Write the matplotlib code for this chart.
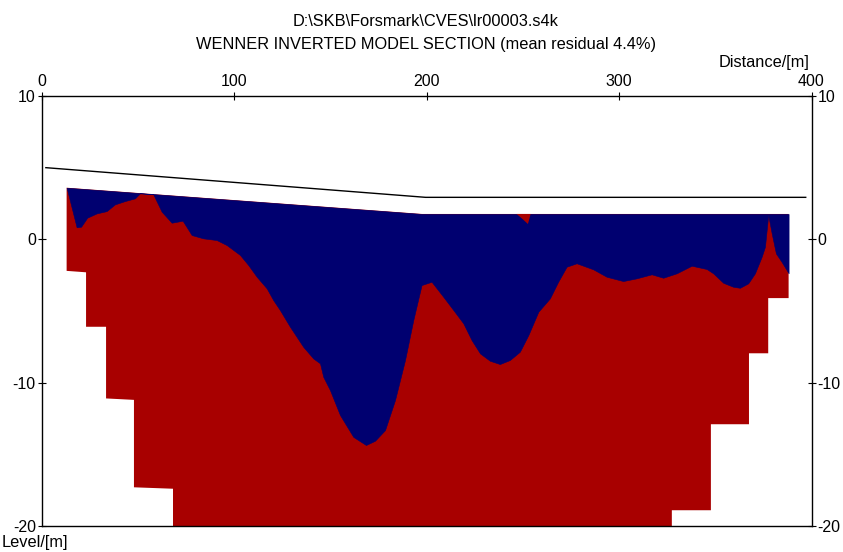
import numpy as np
import matplotlib
matplotlib.use("Agg")
import matplotlib.pyplot as plt

# ---- data (distance [m], level [m]) ----
topo_x = [2.0, 199.4, 397.0]
topo_y = [5.0, 2.93, 2.93]

surf_x = [12.8, 197.5, 388.1]
surf_y = [3.6, 1.77, 1.77]

# stepped lower boundary of the model (left edge -> right edge)
bottom_x = [12.8, 22.9, 22.9, 33.3, 33.3, 47.8, 47.8, 68.1, 68.1, 327.4, 327.4,
            347.7, 347.7, 367.5, 367.5, 377.5, 377.5, 388.1]
bottom_y = [-2.2, -2.3, -6.1, -6.1, -11.1, -11.2, -17.3, -17.4, -20.0, -20.0,
            -18.9, -18.9, -12.9, -12.9, -7.95, -7.95, -4.1, -4.1]

# interface between conductive (blue) and resistive (red) zones
iface_x = [12.8, 18.0, 20.3, 23.5, 28.4, 33.6, 37.9, 43.1, 48.3, 50.9, 57.8,
           62.2, 67.4, 73.1, 77.8, 83.8, 90.8, 96.0, 102.9, 107.2, 111.6, 116.8,
           120.2, 123.7, 128.9, 135.8, 141.0, 144.5, 146.2, 149.7, 154.9, 161.8,
           168.4, 173.1, 178.3, 183.5, 188.7, 193.0, 197.3, 202.5, 208.6, 213.8,
           219.0, 223.3, 227.7, 232.8, 238.0, 243.2, 248.4, 252.8, 258.0, 264.0,
           268.3, 272.7, 277.9, 286.5, 293.5, 302.1, 309.1, 316.9, 322.9, 329.9,
           337.7, 345.5, 348.9, 354.1, 359.3, 362.8, 367.1, 370.6, 374.1, 375.8,
           377.5, 379.3, 381.5, 384.4, 388.1]
iface_y = [3.60, 0.84, 0.88, 1.51, 1.81, 1.97, 2.44, 2.67, 2.86, 3.21, 3.15,
           1.93, 1.16, 1.30, 0.30, 0.07, -0.05, -0.40, -1.09, -1.79, -2.61, -3.42,
           -4.24, -4.94, -6.10, -7.50, -8.31, -8.65, -9.59, -10.52, -12.26, -13.78,
           -14.35, -14.05, -13.31, -11.21, -8.42, -5.63, -3.19, -2.96, -4.01, -4.93,
           -5.86, -7.03, -7.96, -8.47, -8.70, -8.42, -7.84, -6.68, -5.05, -4.12,
           -2.96, -1.91, -1.67, -2.09, -2.61, -2.91, -2.72, -2.44, -2.68, -2.37,
           -1.84, -2.07, -2.37, -3.03, -3.31, -3.38, -3.07, -2.37, -1.21, -0.52,
           1.70, 0.42, -0.98, -1.56, -2.37]

blob_x = [246.7, 249.5, 252.6, 254.0]
blob_y = [1.77, 1.45, 1.07, 1.77]

x_ticks = [0, 100, 200, 300, 400]
y_ticks = [10, 0, -10, -20]

RED = "#a80000"
BLUE = "#000070"

plt.rcParams['font.family'] = ['Liberation Sans', 'DejaVu Sans']
plt.rcParams['axes.unicode_minus'] = False

fig = plt.figure(figsize=(8.43, 5.52), dpi=100)
ax = fig.add_axes([42/843, 1-526/552, (811.5-42)/843, (526-96)/552])

# model body (red)
poly_x = list(surf_x) + bottom_x[::-1]
poly_y = list(surf_y) + bottom_y[::-1]
ax.fill(poly_x, poly_y, color=RED, lw=0)

# conductive zone (blue) between surface and interface
ix = np.array(iface_x)
iy = np.array(iface_y)
top = np.interp(ix, surf_x, surf_y)
ax.fill_between(ix, np.minimum(iy, top), top, facecolor=BLUE,
                edgecolor=BLUE, lw=0.4)

# small resistive spot at the surface
ax.fill(blob_x, blob_y, color=RED, lw=0)

# topography line
ax.plot(topo_x, topo_y, color="black", lw=1)

ax.set_xlim(0, 400)
ax.set_ylim(-20, 10)
ax.set_xticks(x_ticks)
ax.set_yticks(y_ticks)
ax.xaxis.tick_top()
ax.tick_params(axis='x', which='both', top=True, bottom=False, labeltop=True,
               labelbottom=False, direction='inout', length=6, labelsize=11.5, pad=2)
ax.tick_params(axis='y', which='both', left=True, right=True, labelleft=True,
               labelright=True, direction='inout', length=6, labelsize=11.5, pad=1.5)
for s in ax.spines.values():
    s.set_linewidth(1)

fig.text(0.505, 1-22/552, r"D:\SKB\Forsmark\CVES\lr00003.s4k", ha='center', va='center', fontsize=11.8)
fig.text(0.505, 1-44/552, "WENNER INVERTED MODEL SECTION (mean residual 4.4%)", ha='center', va='center', fontsize=11.8)
fig.text(810/843, 1-62/552, "Distance/[m]", ha='right', va='center', fontsize=11.8)
fig.text(2/843, 1-543/552, "Level/[m]", ha='left', va='center', fontsize=11.8)

fig.savefig("out.png", dpi=100)
